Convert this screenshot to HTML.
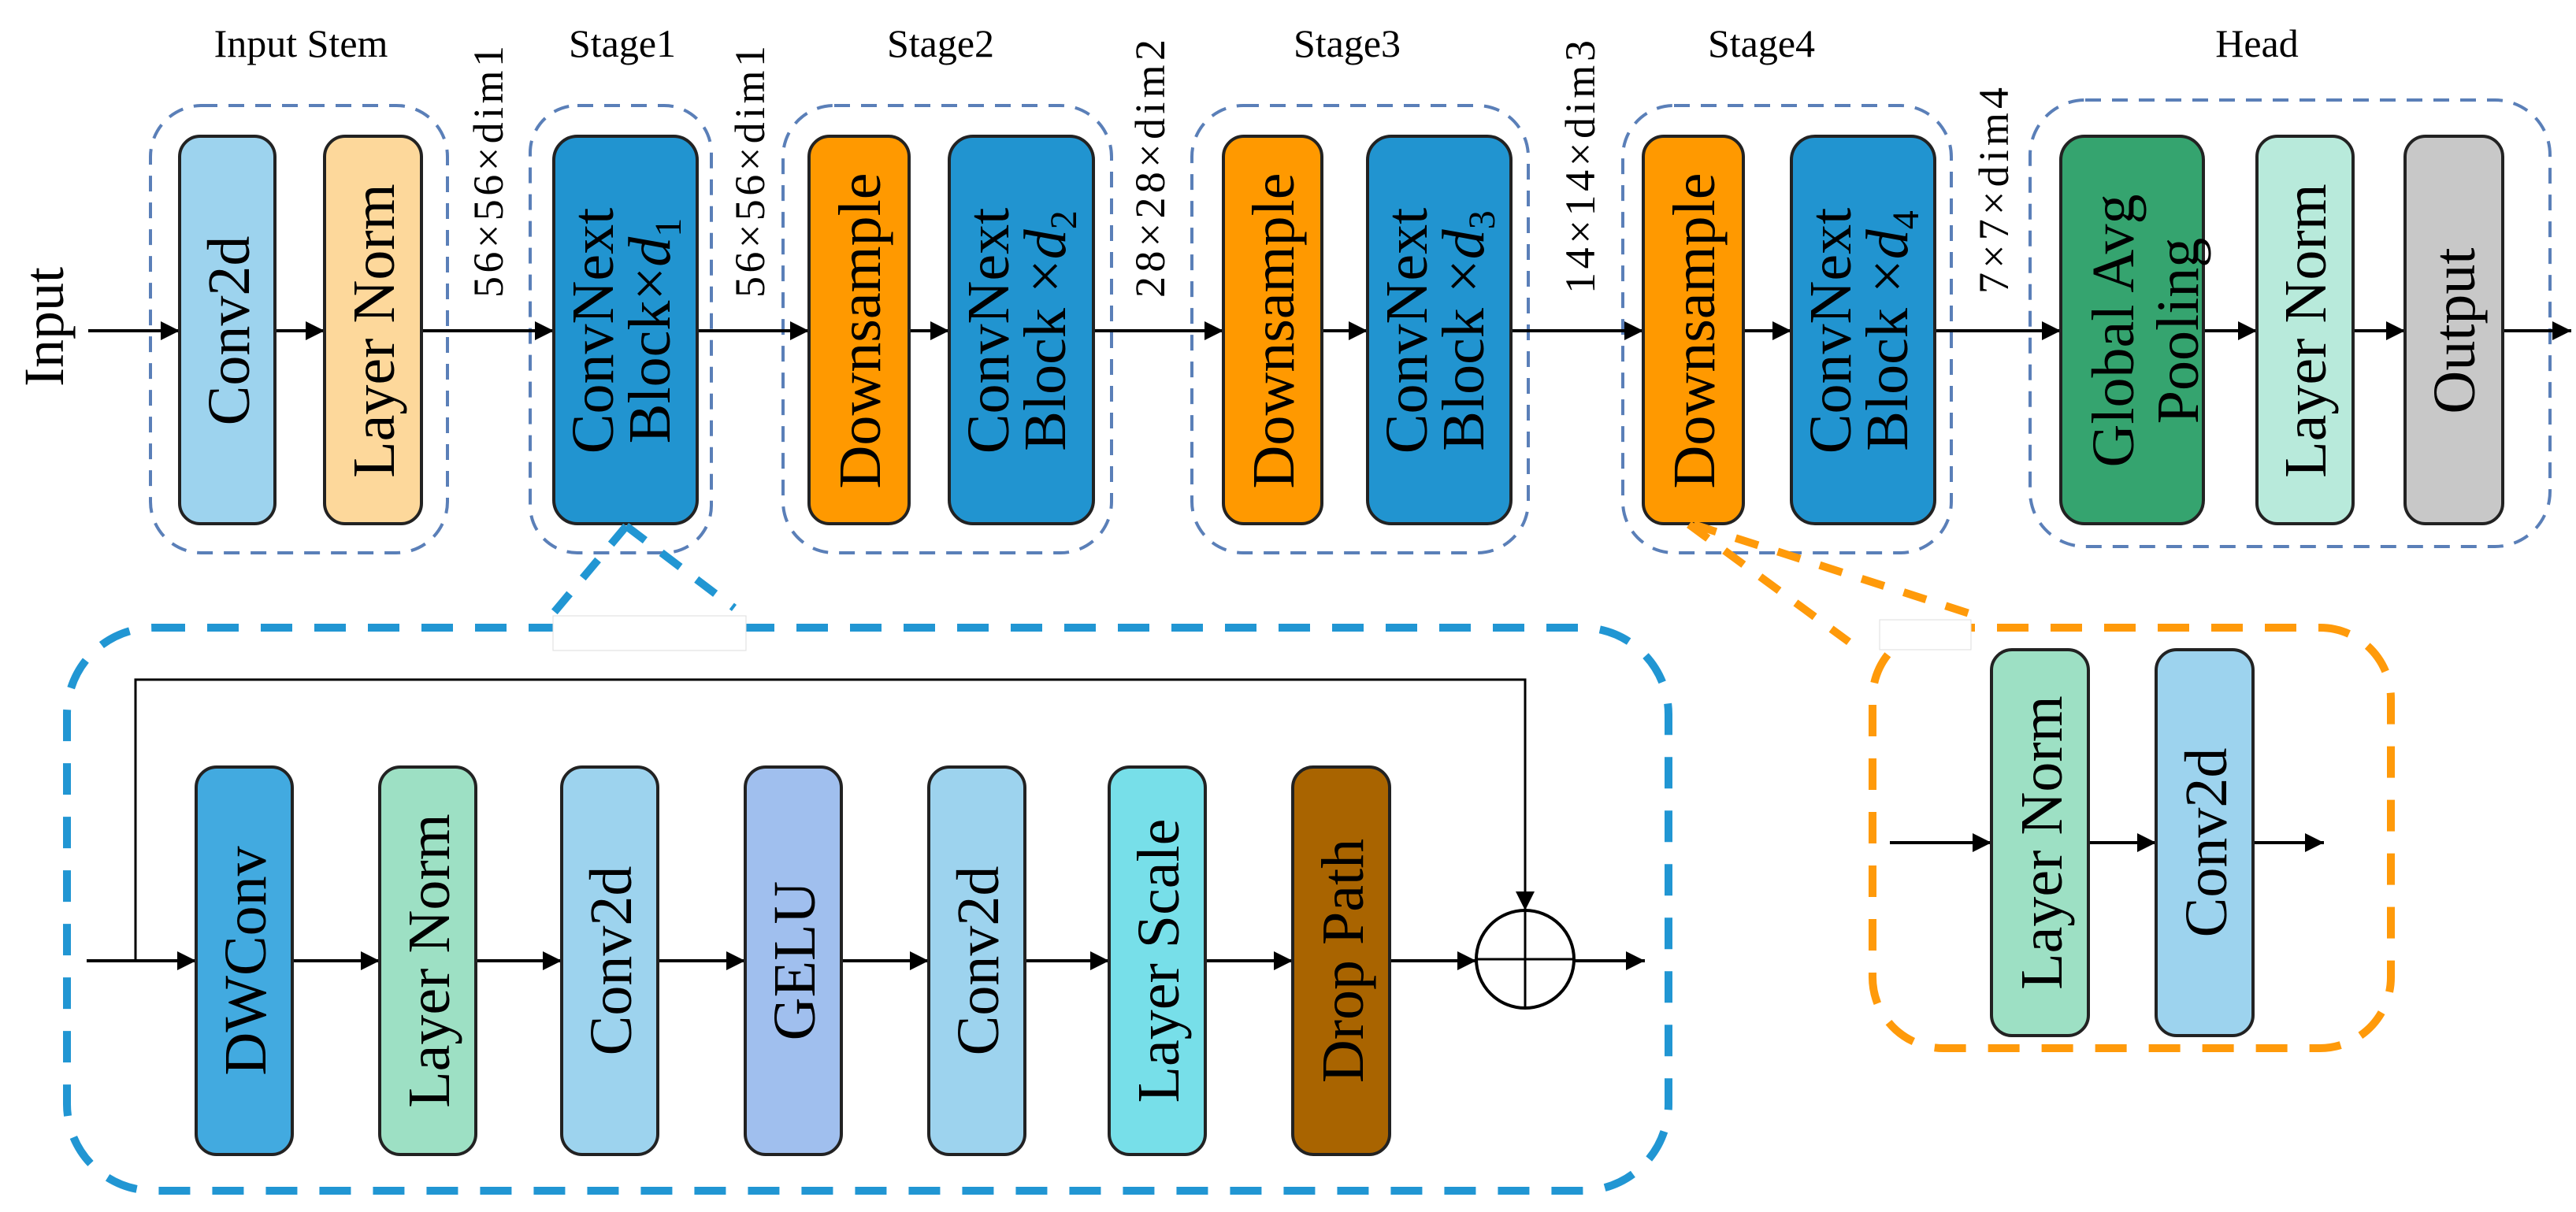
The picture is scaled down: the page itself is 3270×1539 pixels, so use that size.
<!DOCTYPE html>
<html><head><meta charset="utf-8"><style>
html,body{margin:0;padding:0;background:#fff;}
svg{display:block;}
text{font-family:"Liberation Serif",serif;fill:#000;}
</style></head><body>
<svg width="3270" height="1539" viewBox="0 0 3270 1539" xmlns="http://www.w3.org/2000/svg">
<defs>
<marker id="ah" viewBox="0 0 10 10" refX="10" refY="5" markerWidth="26" markerHeight="24" markerUnits="userSpaceOnUse" orient="auto"><path d="M0,0 L10,5 L0,10 z" fill="#000"/></marker>
</defs>
<g fill="none" stroke="#5a7fb8" stroke-width="4" stroke-dasharray="20 14">
<rect x="191" y="134" width="377" height="568" rx="65"/>
<rect x="673" y="134" width="230" height="568" rx="60"/>
<rect x="994" y="134" width="417" height="568" rx="65"/>
<rect x="1513" y="134" width="427" height="568" rx="65"/>
<rect x="2060" y="134" width="417" height="568" rx="65"/>
<rect x="2577" y="127" width="660" height="567" rx="70"/>
</g>
<line x1="112" y1="420" x2="3262" y2="420" stroke="#000" stroke-width="4"/>
<g stroke="#000" stroke-width="4">
<line x1="190" y1="420" x2="228" y2="420" marker-end="url(#ah)"/>
<line x1="380" y1="420" x2="412" y2="420" marker-end="url(#ah)"/>
<line x1="660" y1="420" x2="703" y2="420" marker-end="url(#ah)"/>
<line x1="980" y1="420" x2="1027" y2="420" marker-end="url(#ah)"/>
<line x1="1160" y1="420" x2="1205" y2="420" marker-end="url(#ah)"/>
<line x1="1500" y1="420" x2="1553" y2="420" marker-end="url(#ah)"/>
<line x1="1690" y1="420" x2="1736" y2="420" marker-end="url(#ah)"/>
<line x1="2040" y1="420" x2="2086" y2="420" marker-end="url(#ah)"/>
<line x1="2220" y1="420" x2="2274" y2="420" marker-end="url(#ah)"/>
<line x1="2570" y1="420" x2="2616" y2="420" marker-end="url(#ah)"/>
<line x1="2820" y1="420" x2="2865" y2="420" marker-end="url(#ah)"/>
<line x1="3010" y1="420" x2="3053" y2="420" marker-end="url(#ah)"/>
<line x1="3200" y1="420" x2="3264" y2="420" marker-end="url(#ah)"/>
</g>
<g stroke="#222" stroke-width="4">
<rect x="228" y="173" width="121" height="492" rx="26" fill="#9dd3ee"/>
<rect x="412" y="173" width="123" height="492" rx="26" fill="#fdd89b"/>
<rect x="703" y="173" width="182" height="492" rx="30" fill="#2194d0"/>
<rect x="1027" y="173" width="127" height="492" rx="26" fill="#ff9900"/>
<rect x="1205" y="173" width="183" height="492" rx="30" fill="#2194d0"/>
<rect x="1553" y="173" width="125" height="492" rx="26" fill="#ff9900"/>
<rect x="1736" y="173" width="182" height="492" rx="30" fill="#2194d0"/>
<rect x="2086" y="173" width="127" height="492" rx="26" fill="#ff9900"/>
<rect x="2274" y="173" width="182" height="492" rx="30" fill="#2194d0"/>
<rect x="2616" y="173" width="181" height="492" rx="30" fill="#35a46f"/>
<rect x="2865" y="173" width="122" height="492" rx="26" fill="#b8eadb"/>
<rect x="3053" y="173" width="124" height="492" rx="26" fill="#c8c8c8"/>
</g>
<g font-size="76" text-anchor="middle">
<text transform="translate(80,415) rotate(-90)" font-size="72">Input</text>
<text transform="translate(316,420) rotate(-90)">Conv2d</text>
<text transform="translate(500,420) rotate(-90)">Layer Norm</text>
<text transform="translate(1117,420) rotate(-90)">Downsample</text>
<text transform="translate(1642,420) rotate(-90)">Downsample</text>
<text transform="translate(2176,420) rotate(-90)">Downsample</text>
<text transform="translate(2708,420) rotate(-90)">Global Avg</text>
<text transform="translate(2790,420) rotate(-90)">Pooling</text>
<text transform="translate(2952,420) rotate(-90)">Layer Norm</text>
<text transform="translate(3141,420) rotate(-90)">Output</text>
<text transform="translate(778,420) rotate(-90)">ConvNext</text>
<text transform="translate(850,420) rotate(-90)">Block×<tspan font-style="italic">d</tspan><tspan font-size="48" dy="14">1</tspan></text>
<text transform="translate(1280,420) rotate(-90)">ConvNext</text>
<text transform="translate(1352,420) rotate(-90)">Block ×<tspan font-style="italic">d</tspan><tspan font-size="48" dy="14">2</tspan></text>
<text transform="translate(1811,420) rotate(-90)">ConvNext</text>
<text transform="translate(1883,420) rotate(-90)">Block ×<tspan font-style="italic">d</tspan><tspan font-size="48" dy="14">3</tspan></text>
<text transform="translate(2349,420) rotate(-90)">ConvNext</text>
<text transform="translate(2421,420) rotate(-90)">Block ×<tspan font-style="italic">d</tspan><tspan font-size="48" dy="14">4</tspan></text>
</g>
<g font-size="50" text-anchor="middle">
<text x="382" y="72">Input Stem</text>
<text x="790" y="72">Stage1</text>
<text x="1194" y="72">Stage2</text>
<text x="1710" y="72">Stage3</text>
<text x="2236" y="72">Stage4</text>
<text x="2865" y="72">Head</text>
</g>
<g font-size="54">
<text transform="translate(638,378) rotate(-90)" textLength="320" lengthAdjust="spacing">56×56×dim1</text>
<text transform="translate(970,378) rotate(-90)" textLength="320" lengthAdjust="spacing">56×56×dim1</text>
<text transform="translate(1478,378) rotate(-90)" textLength="328" lengthAdjust="spacing">28×28×dim2</text>
<text transform="translate(2024,373) rotate(-90)" textLength="322" lengthAdjust="spacing">14×14×dim3</text>
<text transform="translate(2549,373) rotate(-90)" textLength="262" lengthAdjust="spacing">7×7×dim4</text>
</g>
<!-- blue detail box -->
<rect x="85" y="797" width="2033" height="715" rx="110" fill="none" stroke="#2196d3" stroke-width="10" stroke-dasharray="40 28"/>
<g stroke="#2196d3" stroke-width="10" stroke-dasharray="30 26" fill="none">
<line x1="795" y1="668" x2="687" y2="797"/>
<line x1="795" y1="668" x2="932" y2="772"/>
</g>
<rect x="702" y="782" width="245" height="44" fill="#fff" stroke="#ddd" stroke-width="1"/>
<!-- orange detail box -->
<rect x="2377" y="797" width="658" height="534" rx="90" fill="none" stroke="#ff9a0a" stroke-width="10" stroke-dasharray="40 28"/>
<g stroke="#ff9a0a" stroke-width="10" stroke-dasharray="30 26" fill="none">
<line x1="2144" y1="666" x2="2347" y2="815"/>
<line x1="2150" y1="666" x2="2503" y2="780"/>
</g>
<rect x="2386" y="787" width="116" height="38" fill="#fff" stroke="#ddd" stroke-width="1"/>
<!-- bottom flow -->
<g stroke="#000" stroke-width="4" fill="none">
<line x1="110" y1="1220" x2="249" y2="1220" marker-end="url(#ah)"/>
<polyline points="172,1220 172,863 1936,863 1936,1156" stroke-width="3" marker-end="url(#ah)"/>
<line x1="371" y1="1220" x2="482" y2="1220" marker-end="url(#ah)"/>
<line x1="604" y1="1220" x2="713" y2="1220" marker-end="url(#ah)"/>
<line x1="835" y1="1220" x2="946" y2="1220" marker-end="url(#ah)"/>
<line x1="1068" y1="1220" x2="1179" y2="1220" marker-end="url(#ah)"/>
<line x1="1301" y1="1220" x2="1408" y2="1220" marker-end="url(#ah)"/>
<line x1="1530" y1="1220" x2="1641" y2="1220" marker-end="url(#ah)"/>
<line x1="1764" y1="1220" x2="1874" y2="1220" marker-end="url(#ah)"/>
<line x1="1998" y1="1220" x2="2088" y2="1220" marker-end="url(#ah)"/>
<circle cx="1936" cy="1218" r="62" stroke-width="4"/>
<line x1="1874" y1="1218" x2="1998" y2="1218" stroke-width="3"/>
<line x1="1936" y1="1156" x2="1936" y2="1280" stroke-width="3"/>
<line x1="2399" y1="1070" x2="2528" y2="1070" marker-end="url(#ah)"/>
<line x1="2651" y1="1070" x2="2737" y2="1070" marker-end="url(#ah)"/>
<line x1="2860" y1="1070" x2="2950" y2="1070" marker-end="url(#ah)"/>
</g>
<g stroke="#222" stroke-width="4">
<rect x="249" y="974" width="122" height="492" rx="26" fill="#42aae0"/>
<rect x="482" y="974" width="122" height="492" rx="26" fill="#9de0c4"/>
<rect x="713" y="974" width="122" height="492" rx="26" fill="#9dd3ee"/>
<rect x="946" y="974" width="122" height="492" rx="26" fill="#a0bfee"/>
<rect x="1179" y="974" width="122" height="492" rx="26" fill="#9dd3ee"/>
<rect x="1408" y="974" width="122" height="492" rx="26" fill="#77dfe9"/>
<rect x="1641" y="974" width="123" height="492" rx="26" fill="#a96400"/>
<rect x="2528" y="825" width="123" height="490" rx="26" fill="#9de0c4"/>
<rect x="2737" y="825" width="123" height="490" rx="26" fill="#9dd3ee"/>
</g>
<g font-size="76" text-anchor="middle">
<text transform="translate(337,1220) rotate(-90)">DWConv</text>
<text transform="translate(570,1220) rotate(-90)">Layer Norm</text>
<text transform="translate(801,1220) rotate(-90)">Conv2d</text>
<text transform="translate(1034,1220) rotate(-90)">GELU</text>
<text transform="translate(1267,1220) rotate(-90)">Conv2d</text>
<text transform="translate(1496,1220) rotate(-90)">Layer Scale</text>
<text transform="translate(1730,1220) rotate(-90)">Drop Path</text>
<text transform="translate(2617,1070) rotate(-90)">Layer Norm</text>
<text transform="translate(2826,1070) rotate(-90)">Conv2d</text>
</g>
</svg>
</body></html>
